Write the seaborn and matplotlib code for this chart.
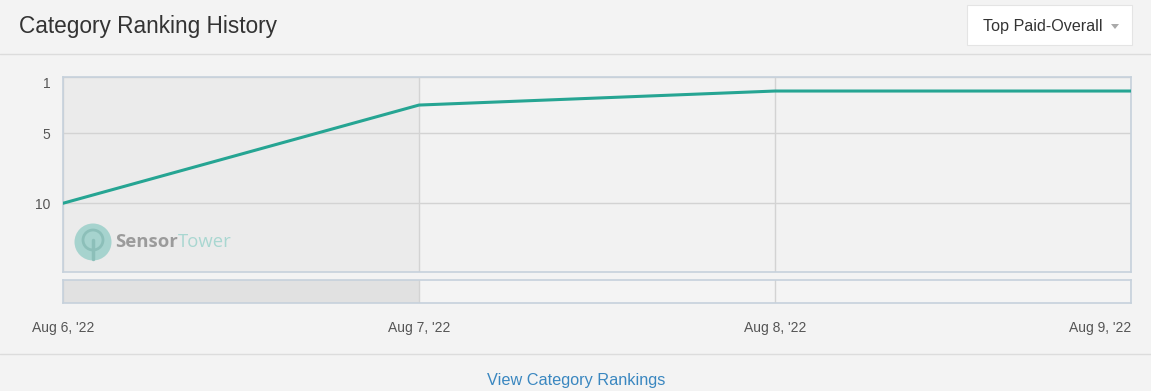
import pandas as pd
import matplotlib.pyplot as plt
import matplotlib.patches as mpatches
import matplotlib.transforms as mtransforms
import seaborn as sns

# chart data
dates = ["2022-08-06", "2022-08-07", "2022-08-08", "2022-08-09"]
ranks = [10, 3, 2, 2]
tick_labels = ["Aug 6, '22", "Aug 7, '22", "Aug 8, '22", "Aug 9, '22"]
rank_ticks = [1, 5, 10]

df = pd.DataFrame({"date": pd.to_datetime(dates), "rank": ranks})

sns.set_theme(style="white")
plt.rcParams["font.family"] = ["Liberation Sans", "DejaVu Sans"]

W, H = 1151, 391
bg = "#f3f3f3"
fig = plt.figure(figsize=(W / 100, H / 100), dpi=100, facecolor=bg)


def box(x0, y0, x1, y1):
    # pixel box (top-left origin) -> figure fraction rect
    return [x0 / W, 1 - y1 / H, (x1 - x0) / W, (y1 - y0) / H]


# header / footer
fig.text(19 / W, 1 - 26 / H, "Category Ranking History", fontsize=16.3,
         color="#333333", va="center", ha="left")
fig.add_artist(plt.Line2D([0, 1], [1 - 54 / H] * 2, color="#dcdcdc", lw=1))
fig.add_artist(plt.Line2D([0, 1], [1 - 354 / H] * 2, color="#dcdcdc", lw=1))
fig.add_artist(mpatches.Rectangle((967 / W, 1 - 45 / H), 165 / W, 40 / H,
                                  transform=fig.transFigure, facecolor="white",
                                  edgecolor="#e4e4e4", lw=0.8))
fig.text(983 / W, 1 - 26 / H, "Top Paid-Overall", fontsize=11.6,
         color="#333333", va="center", ha="left")
fig.add_artist(mpatches.Polygon([[1111 / W, 1 - 24 / H], [1119 / W, 1 - 24 / H],
                                 [1115 / W, 1 - 29 / H]], closed=True,
                                transform=fig.transFigure, color="#aaaaaa", lw=0))
fig.text(576 / W, 1 - 380 / H, "View Category Rankings", fontsize=11.7,
         color="#3a87c0", va="center", ha="center")

border = "#c6d1dc"
grid = "#d3d3d3"
line_color = "#26a593"
xmin, xmax = df["date"].iloc[0], df["date"].iloc[-1]

# main chart
ax = fig.add_axes(box(63, 77, 1131, 272))
ax.set_facecolor("#f2f2f2")
ax.axvspan(df["date"].iloc[0], df["date"].iloc[1], color="#ebebeb", lw=0, zorder=0)
sns.lineplot(data=df, x="date", y="rank", ax=ax, color=line_color, lw=2.2,
             zorder=3)
ax.set_xlim(xmin, xmax)
ax.set_ylim(14.9, 1)
ax.set_yticks(rank_ticks)
ax.set_yticklabels([str(r) for r in rank_ticks])
ax.set_xticks(df["date"])
ax.set_xticklabels([])
ax.tick_params(axis="y", length=0, pad=9, labelsize=10, labelcolor="#555555")
ax.tick_params(axis="x", length=0)
ax.grid(True, color=grid, lw=1)
ax.set_xlabel("")
ax.set_ylabel("")
for s in ax.spines.values():
    s.set_color(border)
    s.set_linewidth(1.2)
# the top label sits a little below the top border
top_lab = ax.get_yticklabels()[0]
top_lab.set_transform(top_lab.get_transform() +
                      mtransforms.ScaledTranslation(0, -5 / 100, fig.dpi_scale_trans))

# watermark
fig.add_artist(mpatches.Ellipse((93 / W, 1 - 242 / H), 37 / W, 37 / H,
                                transform=fig.transFigure, facecolor="#a6d3ce",
                                edgecolor="none", zorder=5))
fig.add_artist(mpatches.Ellipse((93 / W, 1 - 240 / H), 20 / W, 20 / H,
                                transform=fig.transFigure, facecolor="none",
                                edgecolor="#8cbfb9", lw=2, zorder=6))
fig.add_artist(plt.Line2D([93 / W, 93 / W], [1 - 240 / H, 1 - 259 / H],
                          color="#8cbfb9", lw=2.5, zorder=6))
t1 = fig.text(115 / W, 1 - 242 / H, "Sensor", fontsize=13.3, fontweight="bold",
              color="#9b9b9b", va="center", ha="left", family="Open Sans", zorder=6)
fig.canvas.draw()
ext = t1.get_window_extent()
fig.text(ext.x1 / W, 1 - 242 / H, "Tower", fontsize=13.3,
         color="#a9d7d1", va="center", ha="left", family="Open Sans", zorder=6)

# navigator strip
nav = fig.add_axes(box(63, 280, 1131, 303))
nav.set_facecolor("#f4f4f4")
nav.axvspan(df["date"].iloc[0], df["date"].iloc[1], color="#e1e1e1", lw=0, zorder=0)
nav.set_xlim(xmin, xmax)
nav.set_ylim(0, 1)
nav.set_yticks([])
nav.set_xticks(df["date"])
nav.set_xticklabels(tick_labels)
nav.tick_params(axis="x", length=0, pad=13, labelsize=10, labelcolor="#555555")
nav.grid(True, axis="x", color=grid, lw=1)
labels = nav.get_xticklabels()
labels[-1].set_ha("right")
for s in nav.spines.values():
    s.set_color(border)
    s.set_linewidth(1.2)

fig.savefig("out.png", dpi=100, facecolor=bg)
